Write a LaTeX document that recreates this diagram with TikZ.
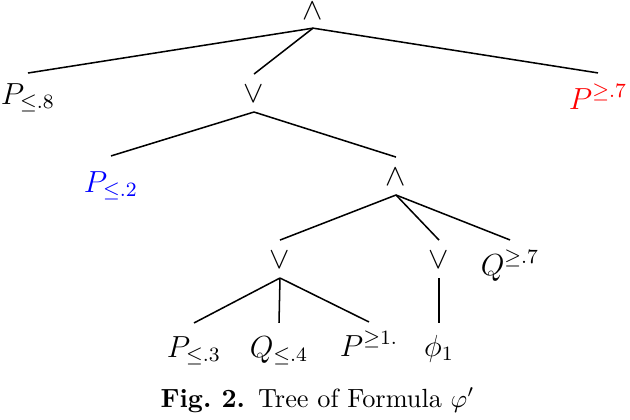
\documentclass[tikz,border=0pt]{standalone}
\usepackage{amsmath}
\begin{document}
\begin{tikzpicture}[x=0.3937pt,y=-0.3937pt,
  every node/.style={inner sep=0pt,outer sep=0pt,anchor=base,font=\fontsize{12}{14}\selectfont},
  op/.style={text height=11pt,text depth=3.94pt},
  leaf/.style={text height=13.4pt,text depth=1pt},
  edge/.style={line width=0.6pt}]
\useasboundingbox (0,0) rectangle (630,420);
% operators
\node[op,text height=6.8pt,text depth=3.6pt] (r)  at (313,19)  {$\wedge$};
\node[op] (o1) at (254,102) {$\vee$};
\node[op] (a2) at (396,185) {$\wedge$};
\node[op] (o3) at (280,268) {$\vee$};
\node[op] (o4) at (439,268) {$\vee$};
% leaves
\node[leaf,text height=12.2pt] (p8) at (28,104) {$P_{\leq .8}$};
\node[leaf,text height=14.2pt,text=red] (p7) at (598,109) {$P^{\geq .7}$};
\node[leaf,text height=14.2pt,text=blue] (p2) at (111,192) {$P_{\leq .2}$};
\node[leaf,text height=13.8pt] (q7) at (510,275) {$Q^{\geq .7}$};
\node[leaf] (p3) at (194,357) {$P_{\leq .3}$};
\node[leaf] (q4) at (279,357) {$Q_{\leq .4}$};
\node[leaf] (p1) at (369,356) {$P^{\geq 1.}$};
\node[leaf,text height=13pt] (f1) at (439,356) {$\phi_1$};
% caption
\node[font=\fontsize{10.35}{12.5}\selectfont] (cap) at (317.5,407) {\textbf{Fig.~2.}\enspace Tree of Formula $\varphi'$};
% edges
\draw[edge] (r.south) -- (p8.north);
\draw[edge] (r.south) -- (o1.north);
\draw[edge] (r.south) -- (p7.north);
\draw[edge] (o1.south) -- (p2.north);
\draw[edge] (o1.south) -- (a2.north);
\draw[edge] (a2.south) -- (o3.north);
\draw[edge] (a2.south) -- (o4.north);
\draw[edge] (a2.south) -- (q7.north);
\draw[edge] (o3.south) -- (p3.north);
\draw[edge] (o3.south) -- (q4.north);
\draw[edge] (o3.south) -- (p1.north);
\draw[edge] (o4.south) -- (f1.north);
\end{tikzpicture}
\end{document}
